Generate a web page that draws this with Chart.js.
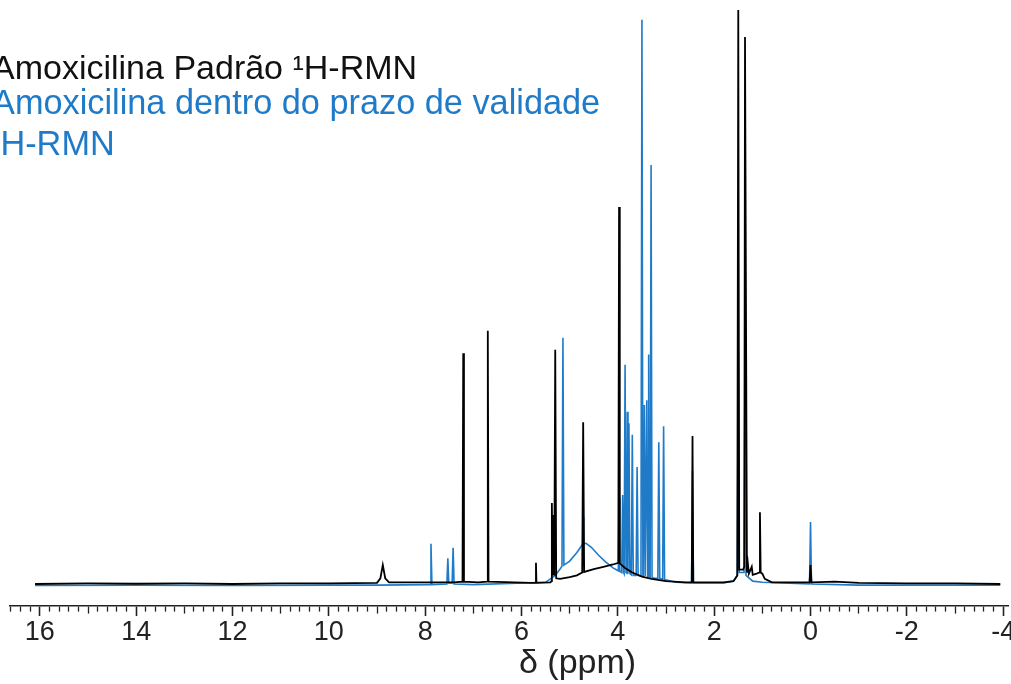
<!DOCTYPE html>
<html><head><meta charset="utf-8">
<script src="https://cdn.jsdelivr.net/npm/chart.js@4/dist/chart.umd.min.js"></script>
<style>html,body{margin:0;padding:0;background:#fff;overflow:hidden;}</style>
</head><body>
<canvas id="c" width="1011" height="684"></canvas>
<script>
// ---- Data ----
const legendLines = ['Amoxicilina Padrão ¹H-RMN', 'Amoxicilina dentro do prazo de validade', '¹H-RMN'];
const xTitle = 'δ (ppm)';
const majorTicks = [16, 14, 12, 10, 8, 6, 4, 2, 0, -2, -4];
const midTicks = [15, 13, 11, 9, 7, 5, 3, 1, -1, -3];
const minorStep = 0.2;

// Amoxicilina padrão (black)
const blackPpm = [16.10, 15.0, 14.0, 13.0, 12.0, 11.0, 10.0, 9.00, 8.93, 8.88, 8.83, 8.75, 7.40, 7.225, 7.21, 7.195, 6.90, 6.715, 6.70, 6.685, 5.80, 5.71, 5.70, 5.69, 5.40, 5.38, 5.37, 5.355, 5.34, 5.32, 5.30, 5.28, 5.20, 5.00, 4.85, 4.74, 4.72, 4.70, 4.50, 4.30, 4.10, 3.99, 3.975, 3.96, 3.85, 3.70, 3.50, 3.30, 3.00, 2.60, 2.465, 2.45, 2.435, 1.80, 1.60, 1.52, 1.50, 1.48, 1.40, 1.375, 1.36, 1.32, 1.30, 1.28, 1.22, 1.20, 1.12, 1.065, 1.05, 1.035, 1.00, 0.95, 0.80, 0.02, 0.00, -0.02, -0.50, -1.00, -2.00, -3.00, -3.94];
const blackInt = [0.0, 0.1, 0.05, 0.1, 0.0, 0.1, 0.1, 0.2, 1.0, 3.3, 1.0, 0.3, 0.3, 0.4, 40.2, 0.4, 0.3, 0.4, 44.1, 0.4, 0.2, 0.2, 3.7, 0.2, 0.3, 0.5, 14.1, 1.5, 12.0, 1.5, 40.8, 1.0, 0.9, 1.2, 1.5, 2.0, 28.2, 2.1, 2.6, 3.0, 3.4, 3.7, 65.7, 3.6, 2.8, 2.0, 1.3, 0.9, 0.5, 0.3, 0.3, 25.8, 0.3, 0.3, 0.5, 1.5, 100.0, 2.5, 2.5, 3.0, 95.3, 2.0, 3.5, 1.8, 3.0, 1.6, 1.8, 2.0, 12.5, 2.0, 1.8, 0.9, 0.3, 0.3, 3.3, 0.3, 0.4, 0.2, 0.1, 0.1, 0.0];

// Amoxicilina dentro do prazo de validade (blue)
const bluePpm = [16.10, 14.0, 12.0, 10.0, 9.00, 7.90, 7.88, 7.86, 7.55, 7.53, 7.51, 7.44, 7.42, 7.40, 7.00, 5.50, 5.30, 5.20, 5.16, 5.14, 5.12, 5.00, 4.85, 4.75, 4.73, 4.72, 4.71, 4.66, 4.55, 4.40, 4.25, 4.10, 3.99, 3.975, 3.96, 3.92, 3.90, 3.88, 3.87, 3.85, 3.83, 3.815, 3.805, 3.79, 3.77, 3.75, 3.72, 3.70, 3.68, 3.62, 3.60, 3.58, 3.52, 3.50, 3.48, 3.47, 3.45, 3.43, 3.42, 3.40, 3.38, 3.37, 3.36, 3.35, 3.33, 3.31, 3.29, 3.25, 3.17, 3.15, 3.13, 3.07, 3.05, 3.03, 2.80, 2.47, 2.45, 2.43, 1.80, 1.60, 1.52, 1.50, 1.48, 1.38, 1.36, 1.34, 1.20, 1.00, 0.02, 0.00, -0.02, -1.00, -3.94];
const blueInt = [-0.25, -0.2, -0.25, -0.2, -0.2, -0.1, 7.0, -0.1, 0.0, 4.5, 0.2, 0.2, 6.3, 0.0, -0.1, 0.3, 1.5, 2.6, 3.1, 42.9, 3.3, 4.0, 5.5, 6.7, 7.0, 11.7, 7.0, 7.1, 6.4, 5.0, 3.8, 2.8, 2.3, 15.0, 2.2, 2.0, 15.5, 2.0, 1.8, 38.2, 2.0, 1.9, 30.0, 1.8, 28.0, 1.8, 1.6, 26.0, 1.5, 1.5, 20.4, 1.5, 1.4, 98.3, 1.4, 1.4, 31.2, 1.4, 1.4, 32.0, 1.3, 1.3, 40.0, 1.3, 1.2, 73.0, 1.2, 1.0, 1.0, 24.7, 1.0, 0.8, 27.5, 0.8, 0.3, 0.2, 19.7, 0.2, 0.2, 0.5, 1.5, 41.0, 2.0, 2.0, 40.0, 1.5, 0.5, 0.3, 0.0, 10.8, 0.0, -0.2, -0.2];

const BLUE = '#1f7bc8';
const toPoints = (xs, ys) => xs.map((x, i) => ({ x: x, y: ys[i] }));

const tickValues = [];
for (let k = Math.round(-4 / minorStep); k <= Math.round(16.6 / minorStep); k++) {
  tickValues.push(Math.round(k * minorStep * 10) / 10);
}
const isIn = (arr, v) => arr.some(m => Math.abs(m - v) < 1e-6);

const textPlugin = {
  id: 'texts',
  afterDraw(chart) {
    const ctx = chart.ctx;
    ctx.save();
    ctx.textAlign = 'left';
    ctx.textBaseline = 'alphabetic';
    ctx.font = '34px "Liberation Sans", Arial, sans-serif';
    ctx.fillStyle = '#111';
    ctx.fillText(legendLines[0], -8, 79);
    ctx.fillStyle = BLUE;
    ctx.font = '34.3px "Liberation Sans", Arial, sans-serif';
    ctx.fillText(legendLines[1], -8, 114);
    ctx.fillText(legendLines[2], -11, 155);
    ctx.fillStyle = '#222';
    ctx.font = '34px "Liberation Sans", Arial, sans-serif';
    ctx.fillText(xTitle, 519, 673);
    ctx.restore();
  }
};

new Chart(document.getElementById('c'), {
  type: 'scatter',
  data: {
    datasets: [
      { label: legendLines[0], data: toPoints(blackPpm, blackInt), showLine: true, borderColor: '#000', borderWidth: 1.8, pointRadius: 0, fill: false, tension: 0 },
      { label: legendLines[1] + ' ' + legendLines[2], data: toPoints(bluePpm, blueInt), showLine: true, borderColor: BLUE, borderWidth: 1.6, pointRadius: 0, fill: false, tension: 0 }
    ]
  },
  options: {
    responsive: false,
    animation: false,
    devicePixelRatio: 1,
    layout: { autoPadding: false, padding: { left: 10, right: 3, top: 0, bottom: 35.6 } },
    plugins: { legend: { display: false }, tooltip: { enabled: false } },
    scales: {
      x: {
        type: 'linear', reverse: true, min: -4.1, max: 16.62,
        border: { display: true, color: '#222', width: 1.6 },
        grid: {
          drawOnChartArea: false, drawTicks: true, tickLength: 10, tickColor: '#222',
          tickWidth: ctx => (ctx.tick && isIn(majorTicks, ctx.tick.value)) ? 1.6 : 1.3,
          tickBorderDash: ctx => {
            if (!ctx.tick) return [];
            if (isIn(majorTicks, ctx.tick.value)) return [];
            if (isIn(midTicks, ctx.tick.value)) return [7, 40];
            return [5, 40];
          }
        },
        ticks: {
          autoSkip: false, maxRotation: 0, minRotation: 0, padding: 0, color: '#222',
          font: { family: '"Liberation Sans", Arial, sans-serif', size: 27 },
          callback: v => isIn(majorTicks, v) ? String(Math.round(v)) : ''
        },
        afterBuildTicks: axis => { axis.ticks = tickValues.map(v => ({ value: v })); }
      },
      y: { display: false, min: -3.83, max: 101.74 }
    }
  },
  plugins: [textPlugin]
});
</script>
</body></html>
